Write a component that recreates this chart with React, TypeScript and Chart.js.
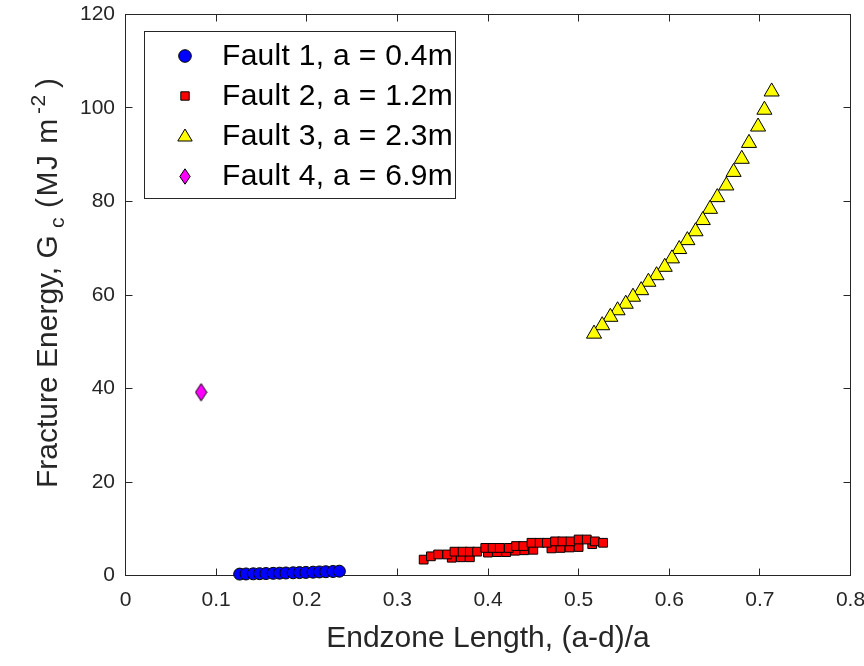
import React, { useEffect, useRef } from 'react';
import { Chart, registerables } from 'chart.js';

Chart.register(...registerables);

// ---------- data ----------
const seriesLabels = ['Fault 1, a = 0.4m', 'Fault 2, a = 1.2m', 'Fault 3, a = 2.3m', 'Fault 4, a = 6.9m'];

const fault1X = [0.126, 0.133, 0.141, 0.148, 0.155, 0.163, 0.170, 0.177, 0.185, 0.192, 0.199, 0.207, 0.214, 0.221, 0.229, 0.236];
const fault1Y = [0.30, 0.33, 0.36, 0.39, 0.42, 0.46, 0.50, 0.54, 0.58, 0.62, 0.66, 0.71, 0.76, 0.81, 0.86, 0.92];

const fault2X = [
  0.360, 0.370, 0.380, 0.400, 0.410, 0.420, 0.430, 0.440, 0.450, 0.470, 0.480, 0.490, 0.500, 0.515,
  0.329, 0.337, 0.345, 0.355, 0.363, 0.372, 0.380, 0.388, 0.397, 0.405, 0.413, 0.423,
  0.431, 0.439, 0.448, 0.457, 0.465, 0.474, 0.482, 0.491, 0.500, 0.509, 0.518, 0.527,
];
const fault2Y = [
  3.8, 3.9, 3.9, 4.9, 5.0, 5.0, 5.3, 5.4, 5.5, 5.8, 5.9, 6.0, 6.1, 6.7,
  3.4, 4.1, 4.5, 4.5, 5.1, 5.1, 5.1, 5.1, 5.9, 5.9, 5.9, 5.9,
  6.3, 6.3, 7.0, 7.0, 7.0, 7.3, 7.3, 7.3, 7.7, 7.7, 7.3, 7.0,
];

const fault3X = [0.713, 0.705, 0.698, 0.688, 0.680, 0.671, 0.663, 0.653, 0.645, 0.637, 0.629, 0.620,
  0.611, 0.603, 0.595, 0.586, 0.577, 0.569, 0.560, 0.552, 0.543, 0.535, 0.526, 0.517];
const fault3Y = [103.5, 99.6, 96.0, 92.5, 89.1, 86.3, 83.4, 80.9, 78.4, 76.0, 73.6, 71.7,
  69.8, 67.8, 66.0, 64.2, 62.8, 61.0, 59.6, 58.1, 56.7, 55.3, 53.5, 51.7];

const fault4X = [0.0834];
const fault4Y = [39.2];

const seriesColors = ['#0000ff', '#ff0000', '#ffff00', '#ff00ff'];

const xTickValues = [0, 0.1, 0.2, 0.3, 0.4, 0.5, 0.6, 0.7, 0.8];
const xTickLabels = ['0', '0.1', '0.2', '0.3', '0.4', '0.5', '0.6', '0.7', '0.8'];
const yTickValues = [0, 20, 40, 60, 80, 100, 120];
const yTickLabels = ['0', '20', '40', '60', '80', '100', '120'];

const xTitle = 'Endzone Length, (a-d)/a';
// text pieces of the y title: kind, and where each piece starts along the reading direction
const yTitleParts = [
  { text: 'Fracture Energy, G', kind: 'normal', at: 0, spacing: 0 },
  { text: 'c', kind: 'sub', at: 260, spacing: 0 },
  { text: '(MJ m', kind: 'normal', at: 280, spacing: 1.5 },
  { text: '-2', kind: 'sup', at: 374, spacing: 0.5 },
  { text: ')', kind: 'normal', at: 400, spacing: 0 },
];

// ---------- styling ----------
const FONT = "'Liberation Sans', Arial, Helvetica, sans-serif";
const AX = '#262626';

function makeDiamond(w: number, h: number, fill: string) {
  const c = document.createElement('canvas');
  c.width = w;
  c.height = h;
  const g = c.getContext('2d')!;
  g.beginPath();
  g.moveTo(w / 2, 0.8);
  g.lineTo(w - 0.8, h / 2);
  g.lineTo(w / 2, h - 0.8);
  g.lineTo(0.8, h / 2);
  g.closePath();
  g.fillStyle = fill;
  g.fill();
  g.strokeStyle = '#000';
  g.lineWidth = 1;
  g.stroke();
  return c;
}

function drawLegendMarker(ctx: CanvasRenderingContext2D, i: number, x: number, y: number, diamond: HTMLCanvasElement) {
  ctx.save();
  ctx.fillStyle = seriesColors[i];
  ctx.strokeStyle = '#000';
  ctx.lineWidth = 1;
  ctx.beginPath();
  if (i === 0) {
    ctx.arc(x, y, 6.3, 0, Math.PI * 2);
  } else if (i === 1) {
    ctx.rect(x - 4.2, y - 4.2, 8.4, 8.4);
  } else if (i === 2) {
    ctx.moveTo(x, y - 7);
    ctx.lineTo(x + 7.2, y + 5);
    ctx.lineTo(x - 7.2, y + 5);
    ctx.closePath();
  } else {
    ctx.drawImage(diamond, Math.round(x - diamond.width / 2), Math.round(y - diamond.height / 2));
    ctx.restore();
    return;
  }
  ctx.fill();
  ctx.stroke();
  ctx.restore();
}

export default function App() {
  const ref = useRef<HTMLCanvasElement>(null);

  useEffect(() => {
    const canvas = ref.current;
    if (!canvas) return;
    const diamond = makeDiamond(13, 19, seriesColors[3]);
    const legendDiamond = makeDiamond(12, 17, seriesColors[3]);

    const framePlugin = {
      id: 'matlabFrame',
      beforeDatasetsDraw(chart: any) {
        const { ctx, chartArea: a, scales } = chart;
        ctx.save();
        ctx.strokeStyle = AX;
        ctx.lineWidth = 1;
        ctx.strokeRect(a.left, a.top, a.right - a.left, a.bottom - a.top);
        const L = 7;
        ctx.beginPath();
        for (const v of xTickValues) {
          const px = Math.floor(scales.x.getPixelForValue(v)) + 0.5;
          ctx.moveTo(px, a.bottom);
          ctx.lineTo(px, a.bottom - L);
          ctx.moveTo(px, a.top);
          ctx.lineTo(px, a.top + L);
        }
        for (const v of yTickValues) {
          const py = Math.floor(scales.y.getPixelForValue(v)) + 0.5;
          ctx.moveTo(a.left, py);
          ctx.lineTo(a.left + L, py);
          ctx.moveTo(a.right, py);
          ctx.lineTo(a.right - L, py);
        }
        ctx.stroke();
        ctx.restore();
      },
      afterDraw(chart: any) {
        const { ctx } = chart;
        // y axis title with sub/superscript (reads bottom to top)
        ctx.save();
        ctx.fillStyle = AX;
        ctx.textBaseline = 'alphabetic';
        ctx.textAlign = 'left';
        ctx.translate(57, 488);
        ctx.rotate(-Math.PI / 2);
        for (const p of yTitleParts) {
          ctx.font = p.kind === 'normal' ? `30px ${FONT}` : `21px ${FONT}`;
          (ctx as any).letterSpacing = `${p.spacing}px`;
          const dy = p.kind === 'sub' ? 7 : p.kind === 'sup' ? -12 : 0;
          ctx.fillText(p.text, p.at, dy);
        }
        (ctx as any).letterSpacing = '0px';
        ctx.restore();

        // legend box
        ctx.save();
        const bx = 144.5, by = 31.5, bw = 311, bh = 167;
        ctx.fillStyle = '#ffffff';
        ctx.fillRect(bx, by, bw, bh);
        ctx.strokeStyle = AX;
        ctx.lineWidth = 1;
        ctx.strokeRect(bx, by, bw, bh);
        ctx.font = `30px ${FONT}`;
        (ctx as any).letterSpacing = '0.3px';
        ctx.fillStyle = '#000000';
        ctx.textBaseline = 'alphabetic';
        ctx.textAlign = 'left';
        seriesLabels.forEach((label, i) => {
          const rowBase = 64.5 + i * 40;
          drawLegendMarker(ctx, i, 185, 56 + i * 40, legendDiamond);
          ctx.fillText(label, 222, rowBase);
        });
        (ctx as any).letterSpacing = '0px';
        ctx.restore();
      },
    };

    const mk = (xs: number[], ys: number[]) => xs.map((x, i) => ({ x, y: ys[i] }));

    const chart = new Chart(canvas, {
      type: 'scatter',
      data: {
        datasets: [
          {
            label: seriesLabels[0], data: mk(fault1X, fault1Y), pointStyle: 'circle', pointRadius: 6,
            backgroundColor: seriesColors[0], borderColor: '#000', borderWidth: 1, clip: false as any,
          },
          {
            label: seriesLabels[1], data: mk(fault2X, fault2Y), pointStyle: 'rect', pointRadius: 6.2,
            backgroundColor: seriesColors[1], borderColor: '#000', borderWidth: 1, clip: false as any,
          },
          {
            label: seriesLabels[2], data: mk(fault3X, fault3Y), pointStyle: 'triangle', pointRadius: 8.7,
            backgroundColor: seriesColors[2], borderColor: '#000', borderWidth: 1, clip: false as any,
          },
          {
            label: seriesLabels[3], data: mk(fault4X, fault4Y), pointStyle: diamond as any, pointRadius: 8,
            backgroundColor: seriesColors[3], borderColor: '#000', borderWidth: 1, clip: false as any,
          },
        ],
      },
      options: {
        animation: false,
        responsive: false,
        events: [],
        layout: { padding: { left: 0, top: 14.5, right: 13.5, bottom: 0 } },
        plugins: { legend: { display: false }, tooltip: { enabled: false } },
        scales: {
          x: {
            type: 'linear',
            min: 0,
            max: 0.8,
            grid: { display: false, drawTicks: false },
            border: { display: false },
            afterBuildTicks: (scale: any) => {
              scale.ticks = xTickValues.map((v) => ({ value: v }));
            },
            afterFit: (scale: any) => {
              scale.height = 90.5;
              scale.paddingLeft = 0;
              scale.paddingRight = 0;
            },
            ticks: {
              padding: 12,
              color: AX,
              font: { family: FONT, size: 21 },
              maxRotation: 0,
              autoSkip: false,
              callback: (_v: any, i: number) => xTickLabels[i],
            },
            title: {
              display: true,
              text: xTitle,
              color: AX,
              font: { family: FONT, size: 30 },
              padding: { top: 0, bottom: 9 },
            },
          },
          y: {
            type: 'linear',
            min: 0,
            max: 120,
            grid: { display: false, drawTicks: false },
            border: { display: false },
            afterBuildTicks: (scale: any) => {
              scale.ticks = yTickValues.map((v) => ({ value: v }));
            },
            afterFit: (scale: any) => {
              scale.width = 125.5;
              scale.paddingTop = 0;
              scale.paddingBottom = 0;
            },
            ticks: {
              padding: 10.5,
              color: AX,
              font: { family: FONT, size: 21 },
              autoSkip: false,
              callback: (_v: any, i: number) => yTickLabels[i],
            },
          },
        },
      },
      plugins: [framePlugin],
    });

    return () => chart.destroy();
  }, []);

  return (
    <div style={{ position: 'absolute', left: 0, top: 0, width: 864, height: 666, background: '#fff' }}>
      <canvas ref={ref} width={864} height={666} style={{ display: 'block' }} />
    </div>
  );
}
